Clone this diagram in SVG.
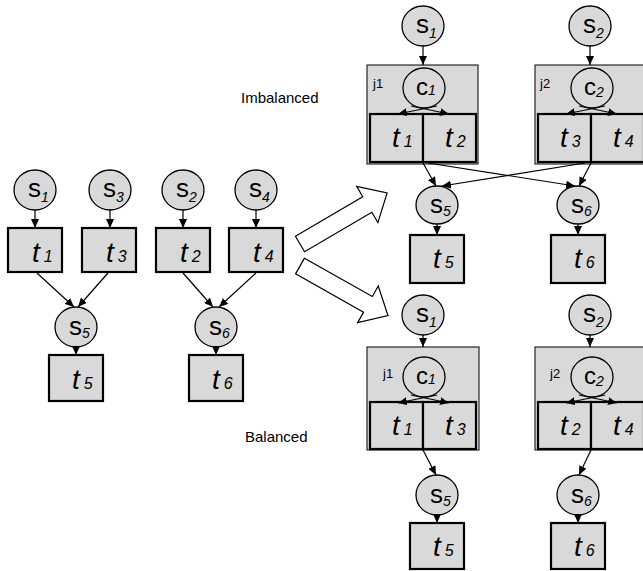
<svg xmlns="http://www.w3.org/2000/svg" width="643" height="571" viewBox="0 0 643 571">
<defs>
<marker id="ah" markerUnits="userSpaceOnUse" markerWidth="9" markerHeight="8" refX="9" refY="4" orient="auto"><path d="M0,0 L9,4 L0,8 z" fill="#000"/></marker>
<style>
.st{fill:#d9d9d9;stroke:#000;stroke-width:1.3}
.tb{fill:#d9d9d9;stroke:#000;stroke-width:2.2}
.jb{fill:#d9d9d9;stroke:#000;stroke-width:1}
.e{stroke:#000;stroke-width:1.2;fill:none;marker-end:url(#ah)}
.s{font-family:"Liberation Sans",Arial,sans-serif;font-size:26px;fill:#000}
.c{font-family:"Liberation Sans",Arial,sans-serif;font-size:24px;fill:#000}
.t{font-family:"Liberation Sans",Arial,sans-serif;font-size:28px;font-style:italic;fill:#000}
.sub{font-size:14px;font-style:italic}
.tsub{font-size:16px;font-style:italic}
.j{font-family:"Liberation Sans",Arial,sans-serif;font-size:13px}
.cap{font-family:"Liberation Sans",Arial,sans-serif;font-size:15px}
.big{fill:#fff;stroke:#000;stroke-width:1.2}
</style>
</defs>
<rect width="643" height="571" fill="#fff"/>

<!-- Left side -->
<g id="L_s1"><ellipse class="st" cx="35" cy="190" rx="21" ry="20"/><text class="s" x="28" y="197">s<tspan class="sub" dy="5">1</tspan></text></g>
<g id="L_s3"><ellipse class="st" cx="110" cy="190" rx="21" ry="20"/><text class="s" x="103" y="197">s<tspan class="sub" dy="5">3</tspan></text></g>
<g id="L_s2"><ellipse class="st" cx="183" cy="190" rx="21" ry="20"/><text class="s" x="176" y="197">s<tspan class="sub" dy="5">2</tspan></text></g>
<g id="L_s4"><ellipse class="st" cx="256" cy="190" rx="21" ry="20"/><text class="s" x="249" y="197">s<tspan class="sub" dy="5">4</tspan></text></g>
<g id="L_t1"><rect class="tb" x="8" y="228" width="54" height="44"/><text class="t" x="32" y="262">t<tspan class="tsub" dx="4">1</tspan></text></g>
<g id="L_t3"><rect class="tb" x="82" y="228" width="54" height="44"/><text class="t" x="106" y="262">t<tspan class="tsub" dx="4">3</tspan></text></g>
<g id="L_t2"><rect class="tb" x="156" y="228" width="54" height="44"/><text class="t" x="180" y="262">t<tspan class="tsub" dx="4">2</tspan></text></g>
<g id="L_t4"><rect class="tb" x="229" y="228" width="54" height="44"/><text class="t" x="253" y="262">t<tspan class="tsub" dx="4">4</tspan></text></g>
<g id="L_s5"><ellipse class="st" cx="76" cy="327" rx="21" ry="20"/><text class="s" x="69" y="335">s<tspan class="sub" dy="3">5</tspan></text></g>
<g id="L_s6"><ellipse class="st" cx="216" cy="327" rx="21" ry="20"/><text class="s" x="209" y="335">s<tspan class="sub" dy="3">6</tspan></text></g>
<g id="L_t5"><rect class="tb" x="49" y="355" width="54" height="46"/><text class="t" x="72" y="389">t<tspan class="tsub" dx="4">5</tspan></text></g>
<g id="L_t6"><rect class="tb" x="189" y="355" width="54" height="46"/><text class="t" x="212" y="389">t<tspan class="tsub" dx="4">6</tspan></text></g>

<!-- Big hollow arrows -->
<g id="arrow_up"><polygon class="big" transform="translate(300,244) rotate(-30.4)" points="0,-9 78,-9 78,-21 101,0 78,21 78,9 0,9"/></g>
<g id="arrow_down"><polygon class="big" transform="translate(300,266) rotate(29.4)" points="0,-9 78,-9 78,-21 101,0 78,21 78,9 0,9"/></g>

<text class="cap" x="241" y="103">Imbalanced</text>
<text class="cap" x="245" y="442">Balanced</text>

<!-- Imbalanced (top right) -->
<g id="I_s1"><ellipse class="st" cx="423" cy="26" rx="21" ry="20"/><text class="s" x="416" y="33">s<tspan class="sub" dy="5">1</tspan></text></g>
<g id="I_s2"><ellipse class="st" cx="590" cy="26" rx="21" ry="20"/><text class="s" x="583" y="33">s<tspan class="sub" dy="5">2</tspan></text></g>
<g id="I_j1">
<rect class="jb" x="367" y="65" width="111" height="99"/>
<text class="j" x="373" y="88">j1</text>
<ellipse class="st" cx="424" cy="88" rx="21" ry="20"/><text class="c" x="416" y="95">c<tspan class="sub" dy="0">1</tspan></text>
<rect class="tb" x="370" y="114" width="53" height="48"/><text class="t" x="392" y="147">t<tspan class="tsub" dx="4">1</tspan></text>
<rect class="tb" x="423" y="114" width="53" height="48"/><text class="t" x="445" y="147">t<tspan class="tsub" dx="4">2</tspan></text>
</g>
<g id="I_j2">
<rect class="jb" x="535" y="65" width="111" height="99"/>
<text class="j" x="540" y="88">j2</text>
<ellipse class="st" cx="592" cy="88" rx="21" ry="20"/><text class="c" x="584" y="95">c<tspan class="sub" dy="2">2</tspan></text>
<rect class="tb" x="538" y="114" width="53" height="48"/><text class="t" x="560" y="147">t<tspan class="tsub" dx="4">3</tspan></text>
<rect class="tb" x="591" y="114" width="53" height="48"/><text class="t" x="613" y="147">t<tspan class="tsub" dx="4">4</tspan></text>
</g>
<g id="I_s5"><ellipse class="st" cx="437" cy="205" rx="21" ry="19"/><text class="s" x="430" y="213">s<tspan class="sub" dy="3">5</tspan></text></g>
<g id="I_s6"><ellipse class="st" cx="578" cy="205" rx="21" ry="19"/><text class="s" x="571" y="213">s<tspan class="sub" dy="3">6</tspan></text></g>
<g id="I_t5"><rect class="tb" x="410" y="235" width="54" height="48"/><text class="t" x="433" y="268">t<tspan class="tsub" dx="4">5</tspan></text></g>
<g id="I_t6"><rect class="tb" x="551" y="235" width="54" height="48"/><text class="t" x="574" y="268">t<tspan class="tsub" dx="4">6</tspan></text></g>

<!-- Balanced (bottom right) -->
<g id="B_s1"><ellipse class="st" cx="423" cy="315" rx="21" ry="20"/><text class="s" x="416" y="322">s<tspan class="sub" dy="5">1</tspan></text></g>
<g id="B_s2"><ellipse class="st" cx="590" cy="315" rx="21" ry="20"/><text class="s" x="583" y="322">s<tspan class="sub" dy="5">2</tspan></text></g>
<g id="B_j1">
<rect class="jb" x="367" y="347" width="112" height="103"/>
<text class="j" x="383" y="378">j1</text>
<ellipse class="st" cx="424" cy="377" rx="21" ry="20"/><text class="c" x="416" y="384">c<tspan class="sub" dy="0">1</tspan></text>
<rect class="tb" x="370" y="402" width="53" height="47"/><text class="t" x="392" y="435">t<tspan class="tsub" dx="4">1</tspan></text>
<rect class="tb" x="423" y="402" width="53" height="47"/><text class="t" x="445" y="435">t<tspan class="tsub" dx="4">3</tspan></text>
</g>
<g id="B_j2">
<rect class="jb" x="535" y="347" width="112" height="103"/>
<text class="j" x="550" y="378">j2</text>
<ellipse class="st" cx="592" cy="377" rx="21" ry="20"/><text class="c" x="584" y="384">c<tspan class="sub" dy="2">2</tspan></text>
<rect class="tb" x="538" y="402" width="53" height="47"/><text class="t" x="560" y="435">t<tspan class="tsub" dx="4">2</tspan></text>
<rect class="tb" x="591" y="402" width="53" height="47"/><text class="t" x="613" y="435">t<tspan class="tsub" dx="4">4</tspan></text>
</g>
<g id="B_s5"><ellipse class="st" cx="437" cy="495" rx="21" ry="20"/><text class="s" x="430" y="503">s<tspan class="sub" dy="3">5</tspan></text></g>
<g id="B_s6"><ellipse class="st" cx="578" cy="495" rx="21" ry="20"/><text class="s" x="571" y="503">s<tspan class="sub" dy="3">6</tspan></text></g>
<g id="B_t5"><rect class="tb" x="410" y="523" width="54" height="46"/><text class="t" x="433" y="556">t<tspan class="tsub" dx="4">5</tspan></text></g>
<g id="B_t6"><rect class="tb" x="551" y="523" width="54" height="46"/><text class="t" x="574" y="556">t<tspan class="tsub" dx="4">6</tspan></text></g>

<!-- Connectors -->
<g id="connectors">
<line class="e" x1="35" y1="210" x2="35" y2="228"/>
<line class="e" x1="110" y1="210" x2="110" y2="228"/>
<line class="e" x1="183" y1="210" x2="183" y2="228"/>
<line class="e" x1="256" y1="210" x2="256" y2="228"/>
<line class="e" x1="37" y1="273" x2="74" y2="307"/>
<line class="e" x1="108" y1="273" x2="78" y2="307"/>
<line class="e" x1="183" y1="273" x2="213" y2="307"/>
<line class="e" x1="256" y1="273" x2="219" y2="307"/>
<line class="e" x1="76" y1="347" x2="76" y2="355"/>
<line class="e" x1="216" y1="347" x2="216" y2="355"/>

<line class="e" x1="423" y1="46" x2="423" y2="65"/>
<line class="e" x1="590" y1="46" x2="590" y2="65"/>
<line class="e" x1="437" y1="106" x2="398" y2="114"/>
<line class="e" x1="411" y1="106" x2="449" y2="114"/>
<line class="e" x1="605" y1="106" x2="566" y2="114"/>
<line class="e" x1="579" y1="106" x2="617" y2="114"/>
<line class="e" x1="423" y1="163" x2="436" y2="186"/>
<line class="e" x1="428" y1="163" x2="575" y2="186"/>
<line class="e" x1="585" y1="163" x2="442" y2="186"/>
<line class="e" x1="591" y1="163" x2="579" y2="186"/>
<line class="e" x1="437" y1="224" x2="437" y2="235"/>
<line class="e" x1="578" y1="224" x2="578" y2="235"/>

<line class="e" x1="423" y1="335" x2="423" y2="347"/>
<line class="e" x1="590" y1="335" x2="590" y2="347"/>
<line class="e" x1="437" y1="395" x2="398" y2="403"/>
<line class="e" x1="411" y1="395" x2="449" y2="403"/>
<line class="e" x1="605" y1="395" x2="566" y2="403"/>
<line class="e" x1="579" y1="395" x2="617" y2="403"/>
<line class="e" x1="423" y1="450" x2="436" y2="475"/>
<line class="e" x1="591" y1="450" x2="579" y2="475"/>
<line class="e" x1="437" y1="515" x2="437" y2="523"/>
<line class="e" x1="578" y1="515" x2="578" y2="523"/>
</g>
</svg>
